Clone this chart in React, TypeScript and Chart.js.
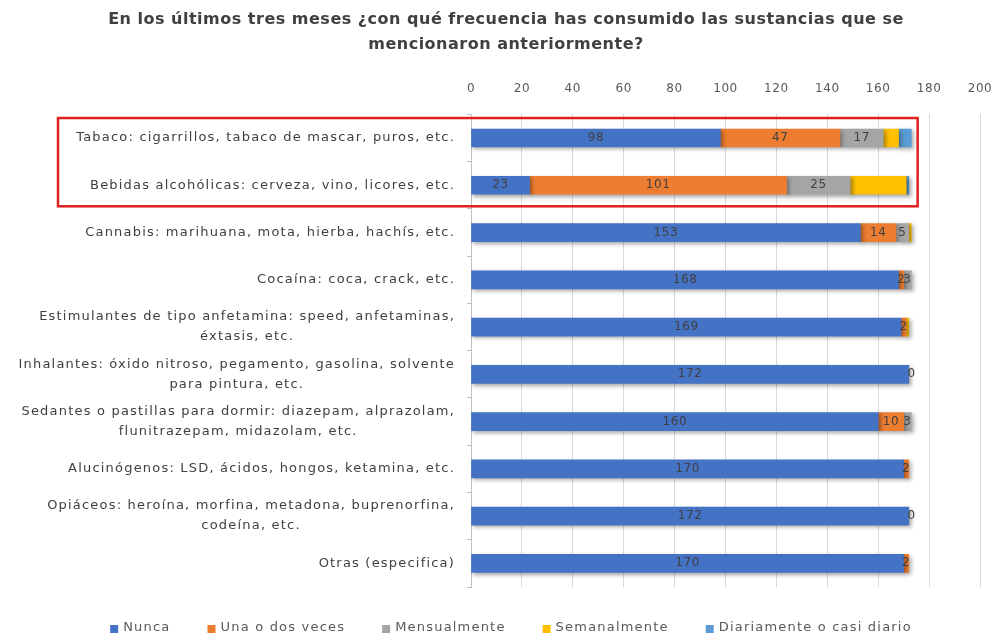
import React, { useEffect, useRef } from "react";
import { Chart, registerables } from "chart.js";

Chart.register(...registerables);

const titleLines = [
  "En los últimos tres meses ¿con qué frecuencia has consumido las sustancias que se",
  "mencionaron anteriormente?",
];

const categories: string[][] = [
  ["Tabaco: cigarrillos, tabaco de mascar, puros, etc."],
  ["Bebidas alcohólicas: cerveza, vino, licores, etc."],
  ["Cannabis: marihuana, mota, hierba, hachís, etc."],
  ["Cocaína: coca, crack, etc."],
  ["Estimulantes de tipo anfetamina: speed, anfetaminas,", "éxtasis, etc."],
  ["Inhalantes: óxido nitroso, pegamento, gasolina, solvente", "para pintura, etc."],
  ["Sedantes o pastillas para dormir: diazepam, alprazolam,", "flunitrazepam, midazolam, etc."],
  ["Alucinógenos: LSD, ácidos, hongos, ketamina, etc."],
  ["Opiáceos: heroína, morfina, metadona, buprenorfina,", "codeína, etc."],
  ["Otras (especifica)"],
];

const seriesNames = [
  "Nunca",
  "Una o dos veces",
  "Mensualmente",
  "Semanalmente",
  "Diariamente o casi diario",
];

const nunca = [98, 23, 153, 168, 169, 172, 160, 170, 172, 170];
const unaODos = [47, 101, 14, 2, 2, 0, 10, 2, 0, 2];
const mensual = [17, 25, 5, 3, null, null, 3, null, null, null];
const semanal = [6, 22, 1, null, 1, null, null, null, null, null];
const diario = [5, 1, null, null, null, null, null, null, null, null];

const xTicks = [0, 20, 40, 60, 80, 100, 120, 140, 160, 180, 200];

const colors = ["#4472C4", "#ED7D31", "#A5A5A5", "#FFC000", "#5B9BD5"];
const labelledSeries = [0, 1, 2];

const FONT = "'DejaVu Sans', sans-serif";

export default function App() {
  const ref = useRef<HTMLCanvasElement | null>(null);

  useEffect(() => {
    if (!ref.current) return;
    const allSeries = [nunca, unaODos, mensual, semanal, diario];

    const customPlugin = {
      id: "custom",
      beforeUpdate(chart: any) {
        chart.ctx.letterSpacing = "0.6px";
      },
      beforeDatasetsDraw(chart: any) {
        const ctx = chart.ctx;
        ctx.save();
        ctx.shadowColor = "rgba(0,0,0,0.35)";
        ctx.shadowBlur = 4;
        ctx.shadowOffsetX = 2;
        ctx.shadowOffsetY = 2;
      },
      afterDatasetsDraw(chart: any) {
        const ctx = chart.ctx;
        ctx.restore();
        // data labels
        ctx.save();
        ctx.letterSpacing = "0.6px";
        ctx.font = `12px ${FONT}`;
        ctx.fillStyle = "#404040";
        ctx.textAlign = "center";
        ctx.textBaseline = "middle";
        labelledSeries.forEach((di) => {
          const meta = chart.getDatasetMeta(di);
          meta.data.forEach((bar: any, i: number) => {
            const v = allSeries[di][i];
            if (v === null || v === undefined) return;
            const x = v === 0 ? bar.x + 3 : (bar.x + bar.base) / 2;
            ctx.fillText(String(v), x, bar.y);
          });
        });
        ctx.restore();
      },
      afterDraw(chart: any) {
        const ctx = chart.ctx;
        const y = chart.scales.y;
        const x = chart.scales.x;
        const area = chart.chartArea;
        const W = chart.width;
        const H = chart.height;

        // title
        ctx.save();
        ctx.letterSpacing = "0.5px";
        ctx.font = `bold 16px ${FONT}`;
        ctx.fillStyle = "#404040";
        ctx.textAlign = "center";
        ctx.textBaseline = "middle";
        titleLines.forEach((t, k) => {
          ctx.fillText(t, W / 2 + 9, 20 + k * 25);
        });
        ctx.restore();

        // category labels
        ctx.save();
        ctx.letterSpacing = "1.2px";
        ctx.font = `13px ${FONT}`;
        ctx.fillStyle = "#404040";
        ctx.textBaseline = "middle";
        ctx.textAlign = "center";
        const lh = 20;
        const right = area.left - 16;
        categories.forEach((lines, i) => {
          const cy = y.getPixelForValue(i);
          const w = Math.max(...lines.map((l) => ctx.measureText(l).width));
          const cx = right - w / 2;
          lines.forEach((l, k) => {
            ctx.fillText(l, cx, cy + (k - (lines.length - 1) / 2) * lh);
          });
        });
        ctx.restore();

        // legend
        ctx.save();
        ctx.letterSpacing = "1.2px";
        ctx.font = `13px ${FONT}`;
        ctx.textBaseline = "middle";
        ctx.textAlign = "left";
        const box = 8;
        const gapBoxText = 5;
        const gapItems = 37;
        const widths = seriesNames.map((s) => ctx.measureText(s).width);
        const total =
          widths.reduce((a, b) => a + b, 0) +
          seriesNames.length * (box + gapBoxText) +
          (seriesNames.length - 1) * gapItems;
        let cx = W / 2 + 14 - total / 2;
        const ly = H - 8;
        seriesNames.forEach((s, i) => {
          ctx.fillStyle = colors[i];
          ctx.fillRect(cx, ly - box / 2 + 1, box, box);
          cx += box + gapBoxText;
          ctx.fillStyle = "#595959";
          ctx.fillText(s, cx, ly);
          cx += widths[i] + gapItems;
        });
        ctx.restore();

        // red highlight box around first two categories
        ctx.save();
        const top = y.getPixelForValue(0) - 20;
        const bottom = y.getPixelForValue(1) + 21;
        const rx = x.getPixelForValue(175.5);
        const lx = area.left - 413;
        ctx.strokeStyle = "#E02020";
        ctx.lineWidth = 2.5;
        ctx.strokeRect(lx, top, rx - lx, bottom - top);
        ctx.restore();
      },
    };

    const chart = new Chart(ref.current, {
      type: "bar",
      data: {
        labels: categories.map((c) => c.join(" ")),
        datasets: allSeries.map((d, i) => ({
          label: seriesNames[i],
          data: d as any,
          backgroundColor: colors[i],
          borderWidth: 0,
          barThickness: 18,
        })),
      },
      options: {
        indexAxis: "y",
        animation: false,
        responsive: false,
        maintainAspectRatio: false,
        layout: { padding: { left: 0, right: 14, top: 64, bottom: 49 } },
        scales: {
          x: {
            position: "top",
            stacked: true,
            min: 0,
            max: 200,
            afterBuildTicks: (scale: any) => {
              scale.ticks = xTicks.map((v) => ({ value: v }));
            },
            afterFit: (scale: any) => {
              scale.paddingLeft = 0;
              scale.paddingRight = 0;
            },
            ticks: {
              color: "#595959",
              font: { family: FONT, size: 12 },
              padding: 18,
              maxRotation: 0,
            },
            grid: { color: "#D9D9D9", drawTicks: false },
            border: { display: false },
          },
          y: {
            stacked: true,
            ticks: { display: false },
            afterFit: (scale: any) => {
              scale.width = 471;
            },
            grid: {
              offset: true,
              drawOnChartArea: false,
              drawTicks: true,
              tickLength: 4,
              color: "#BFBFBF",
            },
            border: { display: true, color: "#BFBFBF" },
          },
        },
        plugins: {
          title: { display: false },
          legend: { display: false },
          tooltip: { enabled: false },
        },
      },
      plugins: [customPlugin],
    } as any);

    return () => chart.destroy();
  }, []);

  return (
    <div style={{ position: "absolute", left: 0, top: 0, width: 994, height: 636, background: "#fff" }}>
      <canvas ref={ref} width={994} height={636} />
    </div>
  );
}
